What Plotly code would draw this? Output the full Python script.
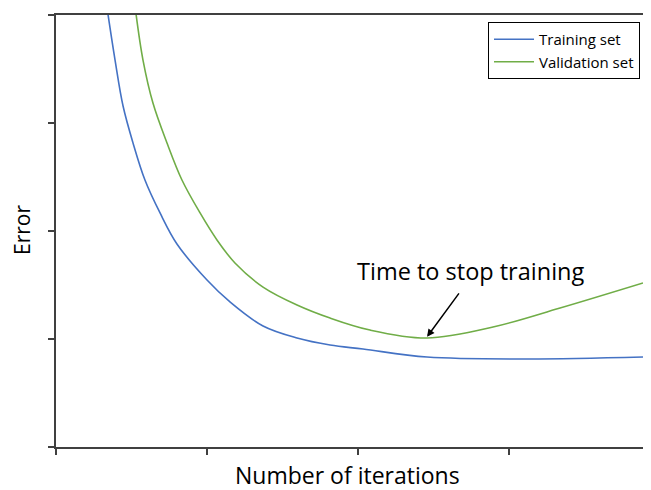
import plotly.graph_objects as go

# Training set curve (x in "iterations" units, y in error units)
train_x = [0.344, 0.391, 0.444, 0.510, 0.589, 0.689, 0.801, 1.000, 1.152, 1.371, 1.596, 1.815, 2.033, 2.457, 3.119, 3.887]
train_y = [4.009, 3.583, 3.157, 2.815, 2.472, 2.167, 1.880, 1.546, 1.343, 1.120, 1.009, 0.944, 0.907, 0.833, 0.815, 0.833]

# Validation set curve
val_x = [0.530, 0.576, 0.642, 0.735, 0.834, 0.954, 1.066, 1.185, 1.371, 1.596, 1.815, 2.079, 2.457, 2.894, 3.338, 3.887]
val_y = [4.009, 3.583, 3.185, 2.815, 2.472, 2.167, 1.917, 1.704, 1.481, 1.315, 1.194, 1.083, 1.009, 1.111, 1.287, 1.519]

stop_x = 2.457
stop_y = 1.02
x_ticks = [0, 1, 2, 3]
y_ticks = [0, 1, 2, 3, 4]

font = "Open Sans"
axis_col = "#404040"
PW = 587.0  # plot width in px
PH = 432.0  # plot height in px

fig = go.Figure()
fig.add_trace(go.Scatter(x=train_x, y=train_y, mode="lines", name="Training set",
                         line=dict(color="#4472C4", width=1.6, shape="spline", smoothing=1.0)))
fig.add_trace(go.Scatter(x=val_x, y=val_y, mode="lines", name="Validation set",
                         line=dict(color="#70AD47", width=1.6, shape="spline", smoothing=1.0)))

fig.update_layout(
    width=635, height=482,
    margin=dict(l=48, r=0, t=7, b=43),
    paper_bgcolor="white", plot_bgcolor="white",
    font=dict(family=font, color="black"),
    showlegend=True,
    legend=dict(x=(640 - 56) / PW, y=(447 - 22) / PH, xanchor="right", yanchor="top",
                bordercolor="black", borderwidth=1, bgcolor="white",
                font=dict(size=15, family=font), tracegroupgap=0,
                itemwidth=40, entrywidth=124, entrywidthmode="pixels"),
    xaxis=dict(range=[0, 3.887], tickvals=x_ticks, showticklabels=False,
               ticks="outside", ticklen=6, tickwidth=2, tickcolor=axis_col,
               showline=True, linecolor=axis_col, linewidth=2, mirror=True,
               showgrid=False, zeroline=False, fixedrange=True),
    yaxis=dict(range=[0, 4], tickvals=y_ticks, showticklabels=False,
               ticks="outside", ticklen=6, tickwidth=2, tickcolor=axis_col,
               showline=True, linecolor=axis_col, linewidth=2,
               showgrid=False, zeroline=False, fixedrange=True),
    annotations=[
        dict(text="Number of iterations", xref="paper", yref="paper",
             x=(347 - 56) / PW, y=-(475 - 447) / PH, xanchor="center", yanchor="middle",
             showarrow=False, font=dict(size=23, family=font)),
        dict(text="Error", xref="paper", yref="paper",
             x=-(56 - 22) / PW, y=(447 - 230) / PH, xanchor="center", yanchor="middle",
             textangle=-90, showarrow=False, font=dict(size=21, family=font)),
        dict(text="Time to stop training", xref="paper", yref="paper",
             x=(470 - 56) / PW, y=(447 - 271) / PH, xanchor="center", yanchor="middle",
             showarrow=False, font=dict(size=23.5, family=font)),
        dict(text="", x=stop_x, y=stop_y, xref="x", yref="y",
             showarrow=True, ax=33, ay=-45, arrowhead=2, arrowsize=1,
             arrowwidth=1.5, arrowcolor="black"),
    ],
)

fig.write_html("out.html")
